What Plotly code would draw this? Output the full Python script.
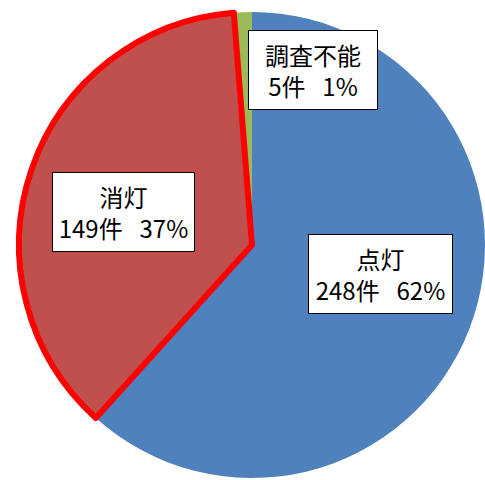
import plotly.graph_objects as go

labels = ["点灯", "消灯", "調査不能"]
counts = [248, 149, 5]
percents = [62, 37, 1]
colors = ["#4F81BD", "#C0504D", "#9BBB59"]
outline_widths = [0, 6, 0]

W, H = 485, 480
ml, mr, mt, mb = 19, 0, 11, 1
pw, ph = W - ml - mr, H - mt - mb

fig = go.Figure()
fig.add_trace(go.Pie(
    labels=labels, values=counts, sort=False, direction="clockwise", rotation=0,
    marker=dict(colors=colors, line=dict(width=0)),
    textinfo="none", hoverinfo="skip", showlegend=False,
))
# outline of the highlighted slice, drawn on top
fig.add_trace(go.Pie(
    labels=labels, values=counts, sort=False, direction="clockwise", rotation=0,
    marker=dict(colors=["rgba(0,0,0,0)"] * 3,
                line=dict(color="#FF0000", width=outline_widths)),
    textinfo="none", hoverinfo="skip", showlegend=False,
))

label_px = [(380, 274), (123, 212), (313, 70)]
box_w = [133, 131, 118]
for lab, c, p, (px, py), bw in zip(labels, counts, percents, label_px, box_w):
    fig.add_annotation(
        x=(px - ml) / pw, y=1 - (py - mt) / ph, xref="paper", yref="paper",
        xanchor="center", yanchor="middle", width=bw, height=68,
        text=f"{lab}<br>{c}件\u2002\u2009{p}%", showarrow=False,
        font=dict(family="Noto Sans CJK JP", size=24, color="#000000"),
        bgcolor="#FFFFFF", bordercolor="#000000", borderwidth=1, borderpad=5,
        align="center", valign="middle",
    )

fig.update_layout(
    width=W, height=H,
    margin=dict(l=ml, r=mr, t=mt, b=mb),
    paper_bgcolor="#FFFFFF", plot_bgcolor="#FFFFFF",
)
fig.write_html("out.html", config={"displayModeBar": False},
               post_script="document.body.style.margin='0';")
